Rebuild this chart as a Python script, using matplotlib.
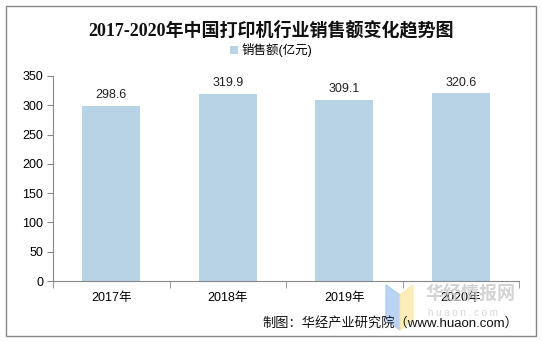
import matplotlib.pyplot as plt
from matplotlib.patches import Rectangle, Polygon

plt.rcParams['font.family'] = ['Liberation Sans', 'Noto Sans CJK SC', 'DejaVu Sans']

years = ['2017年', '2018年', '2019年', '2020年']
sales = [298.6, 319.9, 309.1, 320.6]
yticks = [0, 50, 100, 150, 200, 250, 300, 350]

W, H = 542, 342
fig = plt.figure(figsize=(W / 100, H / 100), dpi=100)

# outer frame
fig.patches.append(Rectangle((6 / W, 6 / H), 530 / W, 330 / H, transform=fig.transFigure,
                             fill=False, edgecolor='#888888', linewidth=1))

ax = fig.add_axes([53 / W, (H - 281) / H, (519 - 53) / W, (281 - 76) / H])
bar_color = '#b8d3e5'
x = list(range(len(years)))
ax.bar(x, sales, width=0.5, color=bar_color, label='销售额(亿元)')
for xi, v in zip(x, sales):
    ax.text(xi, v + 8, f'{v:.1f}', ha='center', va='bottom', fontsize=9, color='#222222')

ax.set_xlim(-0.5, 3.5)
ax.set_ylim(0, 350)
ax.set_yticks(yticks)
ax.set_xticks(x)
ax.set_xticklabels(years, fontsize=9)
ax.tick_params(axis='x', length=0, pad=8)
ax.set_xticks([-0.5, 0.5, 1.5, 2.5, 3.5], minor=True)
ax.tick_params(axis='x', which='minor', length=5, color='#888888', direction='out')
ax.tick_params(axis='y', length=4, color='#888888', labelsize=9, pad=3)
for s in ['top', 'right']:
    ax.spines[s].set_visible(False)
for s in ['left', 'bottom']:
    ax.spines[s].set_color('#888888')

fig.text(0.5, (H - 30) / H, '2017-2020年中国打印机行业销售额变化趋势图', ha='center', va='center',
         fontsize=13, fontweight='bold', color='#111111',
         family=['Liberation Serif', 'Noto Sans CJK SC'])
ax.legend(loc='center', bbox_to_anchor=(0.5, (H - 50) / H), bbox_transform=fig.transFigure,
          frameon=False, fontsize=9, handlelength=0.6, handleheight=0.6, handletextpad=0.3)

# watermark
fig.patches.append(Polygon([[386 / W, (H - 285) / H], [400 / W, (H - 295) / H],
                            [400 / W, (H - 330) / H], [386 / W, (H - 320) / H]],
                           closed=True, transform=fig.transFigure, color='#a9c8f0', alpha=0.8))
fig.patches.append(Polygon([[400 / W, (H - 295) / H], [413 / W, (H - 285) / H],
                            [413 / W, (H - 320) / H], [400 / W, (H - 330) / H]],
                           closed=True, transform=fig.transFigure, color='#fbe9a8', alpha=0.8))
fig.text(426 / W, (H - 295) / H, '华经情报网', fontsize=13, fontweight='bold', color='#c8c8c8',
         ha='left', va='center', alpha=0.8)
fig.text(428 / W, (H - 313) / H, 'h u a o n . c o m', fontsize=7, color='#d8d8d8', ha='left', va='center')

fig.text(518 / W, (H - 323) / H, '制图：华经产业研究院（www.huaon.com）', ha='right', va='center',
         fontsize=9.5, color='#111111')

fig.savefig('out.png', dpi=100)
